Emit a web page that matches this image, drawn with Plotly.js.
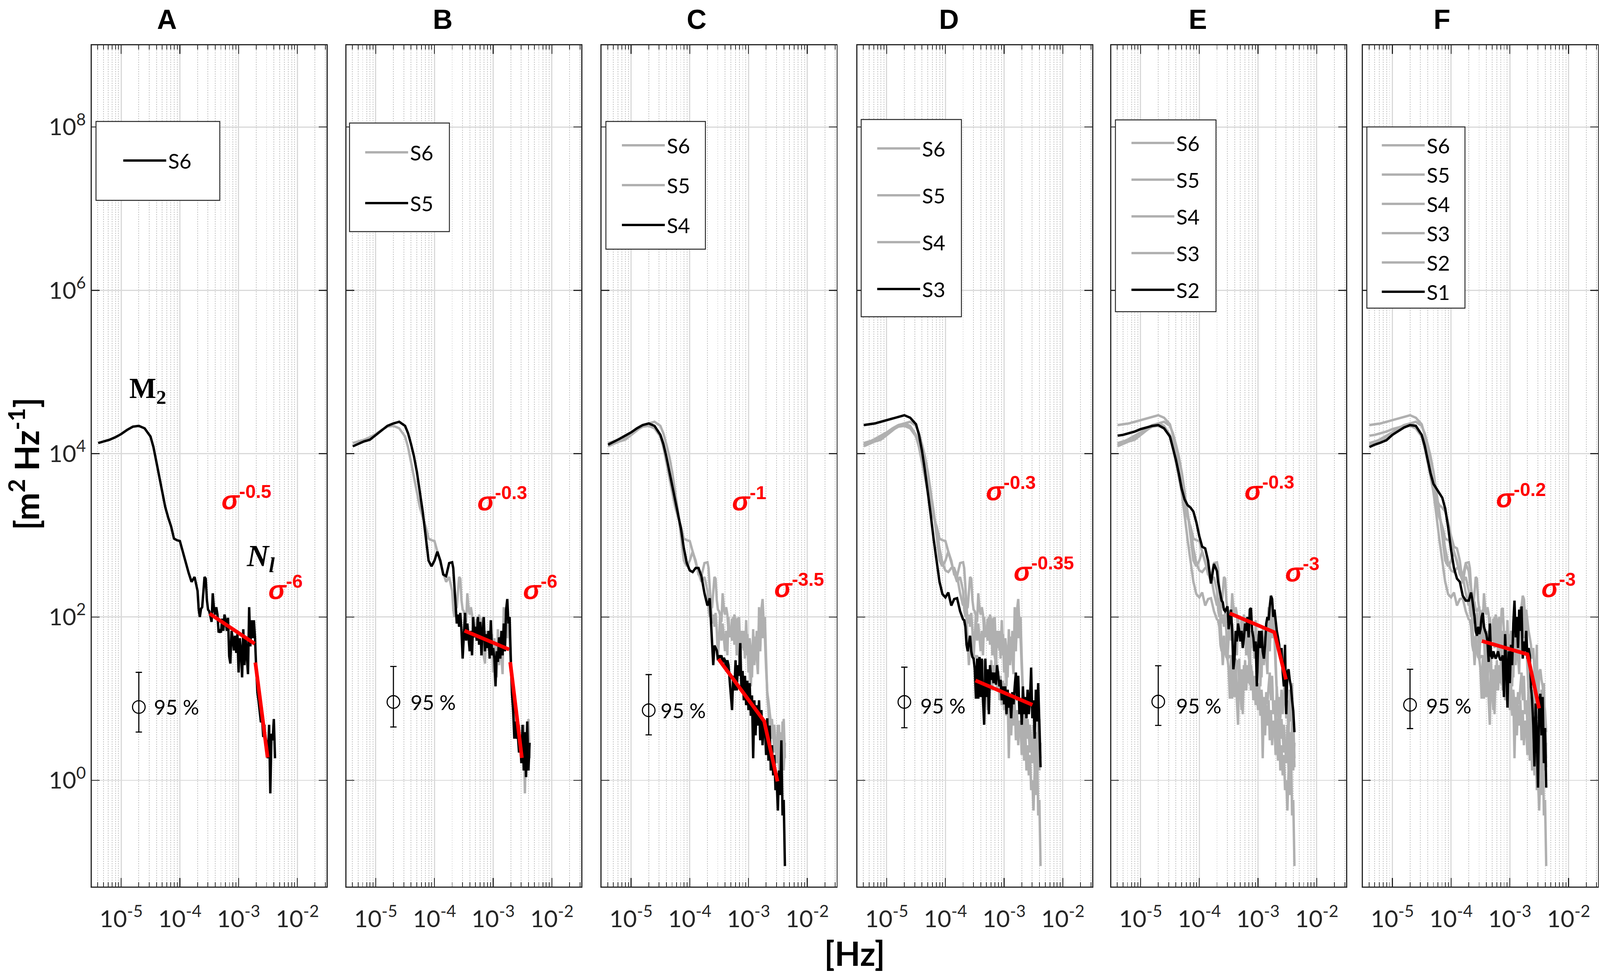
<!DOCTYPE html>
<html>
<head>
<meta charset="utf-8">
<script src="https://cdn.plot.ly/plotly-3.0.1.min.js"></script>
<style>html,body{margin:0;padding:0;background:#fff;overflow:hidden;}#chart{position:absolute;left:0;top:0;}</style>
</head>
<body>
<div id="chart"></div>
<script>
// ---------------- DATA ----------------
// frequency bins [Hz]
const freq = [
  4.07e-6, 5.01e-6, 6.31e-6, 7.94e-6, 1.00e-5, 1.26e-5, 1.58e-5, 2.00e-5, 2.51e-5, 3.16e-5,
  3.55e-5, 3.98e-5, 4.47e-5, 5.01e-5, 5.62e-5, 6.31e-5, 7.08e-5, 7.94e-5, 8.91e-5, 1.00e-4,
  1.12e-4, 1.26e-4, 1.41e-4, 1.58e-4, 1.78e-4, 2.00e-4,
  2.089e-4, 2.188e-4, 2.291e-4, 2.399e-4, 2.512e-4, 2.630e-4, 2.754e-4, 2.884e-4, 3.020e-4, 3.162e-4,
  3.311e-4, 3.467e-4, 3.631e-4, 3.802e-4, 3.981e-4, 4.169e-4, 4.365e-4, 4.571e-4, 4.786e-4, 5.012e-4,
  5.248e-4, 5.495e-4, 5.754e-4, 6.026e-4, 6.310e-4, 6.607e-4, 6.918e-4, 7.244e-4, 7.586e-4, 7.943e-4,
  8.318e-4, 8.710e-4, 9.120e-4, 9.550e-4, 1.000e-3,
  1.047e-3, 1.096e-3, 1.148e-3, 1.202e-3, 1.259e-3, 1.318e-3, 1.380e-3, 1.445e-3, 1.514e-3, 1.585e-3,
  1.660e-3, 1.738e-3, 1.820e-3, 1.905e-3, 1.995e-3, 2.089e-3, 2.188e-3, 2.291e-3, 2.399e-3, 2.512e-3,
  2.630e-3, 2.754e-3, 2.884e-3, 3.020e-3, 3.162e-3, 3.311e-3, 3.467e-3, 3.631e-3, 3.802e-3, 3.981e-3,
  4.169e-3
];

// spectral density, stored as log10 of [m^2 Hz^-1]
const logPsdS6 = [
  4.13, 4.15, 4.17, 4.20, 4.24, 4.29, 4.33, 4.34, 4.31, 4.21, 4.08, 3.90, 3.71, 3.53, 3.35, 3.22, 3.11, 2.96, 2.94, 2.93, 2.80, 2.65, 2.54, 2.43, 2.49, 2.32,
  2.10, 2.00, 2.10, 2.12, 2.32, 2.49, 2.47, 2.21, 2.09, 2.07, 2.01, 1.94, 2.29, 2.10, 2.03, 2.12, 2.03, 1.81, 1.83, 1.81, 1.98, 1.83, 2.03, 1.96, 1.83, 1.99, 1.52, 1.43, 1.83, 1.74, 1.59, 1.77, 1.56, 1.79, 1.32,
  1.74, 1.59, 1.26, 1.85, 1.41, 1.76, 1.52, 1.30, 2.12, 1.64, 1.96, 1.74, 1.96, 1.74, 1.37, 1.08, 0.97, 0.80, 0.71, 0.75, 0.53, 0.68, 0.42, 0.49, 0.27, 0.68, -0.16, 0.57, 0.49, 0.75, 0.27
];
const logPsdS5 = [
  4.09, 4.12, 4.15, 4.17, 4.23, 4.29, 4.34, 4.37, 4.39, 4.34, 4.25, 4.12, 3.97, 3.78, 3.55, 3.29, 2.99, 2.69, 2.62, 2.69, 2.80, 2.69, 2.52, 2.50, 2.66, 2.67,
  2.60, 2.35, 2.18, 1.92, 2.03, 1.88, 2.05, 1.83, 1.49, 1.83, 2.05, 1.71, 1.92, 1.75, 1.58, 1.83, 1.53, 2.00, 1.75, 1.88, 1.71, 2.00, 1.66, 1.94, 1.53, 1.83, 2.00, 1.58, 1.79, 1.62, 1.83, 1.49, 1.96, 1.53, 1.62,
  1.49, 1.15, 1.58, 1.45, 1.75, 1.49, 1.83, 1.53, 1.92, 1.58, 2.09, 2.22, 1.92, 2.00, 1.49, 1.06, 0.85, 0.51, 0.72, 0.51, 0.55, 0.34, 0.46, 0.21, 0.68, 0.12, 0.59, 0.04, 0.72, 0.12, 0.46
];
const logPsdS4 = [
  4.11, 4.14, 4.18, 4.22, 4.26, 4.31, 4.35, 4.37, 4.34, 4.23, 4.12, 3.97, 3.79, 3.63, 3.45, 3.27, 3.08, 2.84, 2.66, 2.57, 2.55, 2.60, 2.60, 2.50, 2.29, 2.14,
  2.17, 2.23, 1.99, 1.71, 1.41, 1.65, 1.62, 1.59, 1.47, 1.53, 1.50, 1.53, 1.44, 1.50, 1.47, 1.37, 1.47, 1.41, 1.22, 1.04, 0.86, 1.28, 1.10, 1.47, 1.10, 1.41, 1.28, 1.68, 1.10, 1.34, 0.98, 1.28, 0.92, 1.22, 0.86,
  1.19, 0.79, 1.04, 0.27, 0.98, 0.55, 0.92, 0.67, 0.98, 0.49, 0.86, 0.43, 0.73, 0.67, 0.31, 0.76, 0.24, 0.67, 0.12, 0.43, 0.06, 0.31, -0.12, 0.00, -0.37, 0.12, -0.18, 0.49, -0.43, -0.24, -1.05
];
const logPsdS3 = [
  4.35, 4.36, 4.37, 4.39, 4.41, 4.43, 4.45, 4.47, 4.44, 4.36, 4.23, 4.04, 3.80, 3.54, 3.25, 2.95, 2.69, 2.43, 2.28, 2.24, 2.30, 2.14, 2.22, 2.23, 2.07, 1.97,
  1.96, 1.88, 1.66, 1.58, 1.68, 1.77, 1.58, 1.51, 1.49, 1.36, 1.00, 1.49, 1.00, 1.51, 1.02, 1.49, 0.98, 0.68, 1.49, 1.02, 1.36, 0.81, 1.41, 1.23, 1.32, 1.19, 1.32, 1.17, 1.41, 1.28, 1.15, 1.23, 0.98, 1.15, 0.93,
  1.15, 0.81, 1.11, 0.89, 1.02, 0.76, 1.08, 0.93, 1.15, 1.32, 0.98, 1.28, 0.81, 0.98, 0.68, 1.15, 0.81, 1.02, 0.76, 1.11, 0.81, 0.98, 1.38, 0.76, 0.98, 0.51, 1.11, 0.72, 1.19, 0.55, 0.16
];
const logPsdS2 = [
  4.22, 4.23, 4.25, 4.27, 4.30, 4.32, 4.34, 4.35, 4.31, 4.21, 4.08, 3.93, 3.76, 3.57, 3.44, 3.37, 3.34, 3.29, 3.16, 2.99, 2.86, 2.84, 2.69, 2.41, 2.65, 2.56,
  2.43, 2.35, 2.26, 2.20, 2.18, 2.09, 2.07, 2.11, 2.13, 1.85, 1.96, 2.09, 1.83, 1.36, 1.49, 1.83, 1.70, 1.92, 1.83, 1.70, 1.83, 1.62, 1.75, 1.92, 1.83, 2.00, 1.75, 2.09, 2.11, 1.83, 1.75, 1.58, 1.70, 1.15, 1.62,
  1.83, 1.62, 1.83, 1.58, 1.49, 1.66, 1.92, 2.00, 1.96, 2.13, 2.26, 2.22, 2.00, 2.09, 1.92, 1.83, 1.75, 1.66, 1.49, 1.62, 1.32, 1.15, 1.66, 0.81, 1.32, 1.36, 1.23, 1.15, 0.98, 0.85, 0.59
];
const logPsdS1 = [
  4.08, 4.11, 4.135, 4.165, 4.23, 4.28, 4.32, 4.35, 4.34, 4.23, 4.10, 3.93, 3.76, 3.63, 3.57, 3.52, 3.46, 3.33, 3.10, 2.82, 2.60, 2.47, 2.43, 2.26, 2.20, 2.20,
  2.24, 2.30, 2.22, 2.13, 2.00, 1.83, 1.77, 1.88, 1.79, 1.85, 2.00, 2.05, 1.88, 1.83, 1.79, 1.70, 1.45, 1.92, 1.53, 1.49, 1.58, 1.53, 1.49, 1.53, 1.58, 1.51, 1.47, 1.49, 1.53, 1.02, 1.79, 1.41, 0.89, 1.58, 1.19,
  1.66, 1.41, 1.92, 2.20, 1.75, 2.00, 1.62, 2.09, 1.83, 2.13, 1.49, 1.70, 1.58, 1.83, 1.49, 1.62, 1.53, 1.15, 0.98, 0.68, 0.17, 0.94, 0.51, -0.09, 0.94, 1.06, 0.55, 1.02, 0.21, 0.64, -0.09
];

// panels and the stations shown in each (last one drawn black)
const panelLetters = ['A', 'B', 'C', 'D', 'E', 'F'];
const panelStations = [
  ['S6'],
  ['S6', 'S5'],
  ['S6', 'S5', 'S4'],
  ['S6', 'S5', 'S4', 'S3'],
  ['S6', 'S5', 'S4', 'S3', 'S2'],
  ['S6', 'S5', 'S4', 'S3', 'S2', 'S1']
];

// red power-law fits (frequency, psd); null separates segments
const fitFreqA = [3.2e-4, 1.88e-3, null, 1.93e-3, 3.12e-3];
const fitPsdA  = [110, 47, null, 27.7, 1.9];
const fitFreqB = [3.25e-4, 1.87e-3, null, 1.95e-3, 3.08e-3];
const fitPsdB  = [68, 40, null, 28, 1.88];
const fitFreqC = [3.08e-4, 1.85e-3, 3.12e-3];
const fitPsdC  = [30.6, 5.3, 0.97];
const fitFreqD = [3.25e-4, 1.87e-3, 3.03e-3];
const fitPsdD  = [16.7, 9.7, 8.4];
const fitFreqE = [3.3e-4, 1.9e-3, 2.99e-3];
const fitPsdE  = [111, 65, 17.2];
const fitFreqF = [3.34e-4, 2.0e-3, 3.16e-3];
const fitPsdF  = [50.8, 34.9, 7.6];

// slope labels
const slopeLow  = ['-0.5', '-0.3', '-1', '-0.3', '-0.3', '-0.2'];
const slopeHigh = ['-6', '-6', '-3.5', '-0.35', '-3', '-3'];

// 95 % confidence bar
const ciFreq   = 2.0e-5;
const ciCenter = [7.9, 9.1, 7.2, 9.1, 9.2, 8.4];
const ciUpper  = [21, 24.8, 19.7, 24.3, 25.3, 22.9];
const ciLower  = [3.9, 4.5, 3.6, 4.4, 4.7, 4.3];

// axis ticks
const xTickVals = [1e-5, 1e-4, 1e-3, 1e-2];
const xTickText = ['10<sup>-5</sup>', '10<sup>-4</sup>', '10<sup>-3</sup>', '10<sup>-2</sup>'];
const yTickVals = [1, 1e2, 1e4, 1e6, 1e8];
const yTickText = ['10<sup>0</sup>', '10<sup>2</sup>', '10<sup>4</sup>', '10<sup>6</sup>', '10<sup>8</sup>'];

// ---------------- BUILD ----------------
const psdLog = {S1: logPsdS1, S2: logPsdS2, S3: logPsdS3, S4: logPsdS4, S5: logPsdS5, S6: logPsdS6};
const fitFreqs = [fitFreqA, fitFreqB, fitFreqC, fitFreqD, fitFreqE, fitFreqF];
const fitPsds = [fitPsdA, fitPsdB, fitPsdC, fitPsdD, fitPsdE, fitPsdF];
const toLin = arr => arr.map(v => Math.pow(10, v));

// design space is 4550 x 2499 px; the figure fills the whole viewport
const W0 = 4550, H0 = 2499;
const W = document.documentElement.clientWidth || window.innerWidth;
const H = document.documentElement.clientHeight || window.innerHeight;
const SX = W / W0, SY = H / H0;
const SF = Math.sqrt(SX * SY);          // scale for fonts / strokes
const f = v => v * SF;
const px = v => v / W0;
const py = v => 1 - v / H0;
const chartDiv = document.getElementById('chart');
chartDiv.style.width = W + 'px';
chartDiv.style.height = H + 'px';

const panelLeft = [261, 985, 1711, 2438, 3160, 3876];
const panelWidth = 668;
const plotTop = 116, plotBottom = 2270;

const LEG_FONT = f(56);
const legItemH = LEG_FONT * 1.3 + 3;
const legendLineStart = [348, 1036, 1766, 2492, 3215, 3927];
const legendFirstY = [411, 390, 372, 380, 366, 372];
const legendSpacing = [100, 130, 102, 120, 94, 75];
const legendBoxes = [
  [273, 311, 625, 513], [994, 315, 1278, 593], [1723, 311, 2006, 638],
  [2449, 306, 2734, 811], [3172, 307, 3458, 798], [3887, 325, 4166, 789]
];

const FONT = 'Lato, "Open Sans", sans-serif';
const AXC = '#262626';

const minorX = [];
for (let e = -6; e <= -2; e++) {
  for (let m = 2; m <= 9; m++) {
    const v = m * Math.pow(10, e);
    if (v > Math.pow(10, -5.5) && v < Math.pow(10, -1.5)) minorX.push(v);
  }
}

const traces = [];
const layout = {
  width: W, height: H, autosize: false,
  margin: {l: 0, r: 0, t: 0, b: 0, pad: 0},
  paper_bgcolor: '#ffffff', plot_bgcolor: '#ffffff',
  font: {family: FONT, color: '#000', size: f(40)},
  showlegend: true,
  shapes: [], annotations: []
};

panelStations.forEach((list, i) => {
  const sfx = i === 0 ? '' : String(i + 1);
  const xa = 'x' + sfx, ya = 'y' + sfx;
  const legName = 'legend' + sfx;

  list.forEach((st, j) => {
    const isBlack = j === list.length - 1;
    traces.push({
      type: 'scatter', mode: 'lines',
      x: freq, y: toLin(psdLog[st]),
      name: st, xaxis: xa, yaxis: ya,
      legend: legName, legendgroup: 'p' + i + st,
      line: {color: isBlack ? '#000000' : '#b0b0b0', width: f(6.5)},
      hoverinfo: 'skip'
    });
  });

  traces.push({
    type: 'scatter', mode: 'lines',
    x: fitFreqs[i], y: fitPsds[i],
    xaxis: xa, yaxis: ya, showlegend: false, connectgaps: false,
    line: {color: '#ff0000', width: f(10)}, hoverinfo: 'skip'
  });

  traces.push({
    type: 'scatter', mode: 'markers',
    x: [ciFreq], y: [ciCenter[i]],
    xaxis: xa, yaxis: ya, showlegend: false,
    marker: {symbol: 'circle-open', size: f(34), color: '#000', line: {width: f(3), color: '#000'}},
    error_y: {type: 'data', symmetric: false,
      array: [ciUpper[i] - ciCenter[i]], arrayminus: [ciCenter[i] - ciLower[i]],
      color: '#000', thickness: f(3), width: 9 * SX},
    hoverinfo: 'skip'
  });

  const L = panelLeft[i];
  layout['xaxis' + sfx] = {
    domain: [px(L), px(L + panelWidth)], anchor: ya,
    type: 'log', range: [-5.5, -1.5],
    tickvals: xTickVals, ticktext: xTickText,
    ticks: 'inside', ticklen: 22 * SY, tickwidth: f(2.5), tickcolor: AXC,
    showline: true, linecolor: AXC, linewidth: f(3), mirror: 'allticks',
    showgrid: true, gridcolor: '#d9d9d9', gridwidth: f(3),
    zeroline: false,
    tickfont: {family: FONT, size: f(64), color: AXC},
    ticklabelstandoff: 28 * SY,
    minor: {tickvals: minorX, ticks: 'inside', ticklen: 11 * SY, tickwidth: f(2), tickcolor: AXC,
      showgrid: true, gridcolor: '#c4c4c4', griddash: 'dot', gridwidth: f(2)},
    fixedrange: true
  };
  layout['yaxis' + sfx] = {
    domain: [py(plotBottom), py(plotTop)], anchor: xa,
    type: 'log', range: [Math.log10(0.05), 9],
    tickvals: yTickVals, ticktext: yTickText,
    showticklabels: i === 0,
    ticks: 'inside', ticklen: 22 * SX, tickwidth: f(2.5), tickcolor: AXC,
    showline: true, linecolor: AXC, linewidth: f(3), mirror: 'allticks',
    showgrid: true, gridcolor: '#d9d9d9', gridwidth: f(3),
    zeroline: false,
    tickfont: {family: FONT, size: f(64), color: AXC},
    ticklabelstandoff: 22 * SX,
    fixedrange: true
  };

  // legend (box drawn as shape, items by plotly legend)
  const b = legendBoxes[i];
  layout.shapes.push({
    type: 'rect', xref: 'paper', yref: 'paper', layer: 'above',
    x0: px(b[0]), x1: px(b[2]), y0: py(b[3]), y1: py(b[1]),
    line: {color: AXC, width: f(2.5)}, fillcolor: '#ffffff'
  });
  const legTopPx = legendFirstY[i] * SY - 5 - legItemH / 2;
  layout[legName] = {
    x: px(legendLineStart[i] - 3), y: 1 - legTopPx / H,
    xanchor: 'left', yanchor: 'top',
    bgcolor: 'rgba(0,0,0,0)', borderwidth: 0,
    font: {family: FONT, size: LEG_FONT, color: '#000'},
    itemwidth: Math.max(30, 122 * SX), traceorder: 'grouped',
    tracegroupgap: Math.max(0, legendSpacing[i] * SY - legItemH),
    itemclick: false, itemdoubleclick: false
  };
});

// annotations
const ann = layout.annotations;
const titlePos = [[475, 50], [1259, 49], [1981, 49], [2699, 49], [3406, 49], [4101, 49]];
const slopeLowPos = [[701, 1275], [1429, 1278], [2131, 1278], [2875, 1252], [3610, 1251], [4326, 1270]];
const slopeHighPos = [[812, 1505], [1536, 1505], [2273, 1500], [2968, 1458], [3703, 1460], [4432, 1500]];
const ciTextPos = [[436, 1810], [1165, 1797], [1876, 1818], [2615, 1806], [3343, 1806], [4054, 1806]];

panelLetters.forEach((t, i) => {
  ann.push({xref: 'paper', yref: 'paper', x: px(titlePos[i][0]), y: py(titlePos[i][1]),
    xanchor: 'center', yanchor: 'middle', showarrow: false, text: '<b>' + t + '</b>',
    font: {family: '"Liberation Sans", Arial, sans-serif', size: f(74), color: '#000'}});
  ann.push({xref: 'paper', yref: 'paper', x: px(slopeLowPos[i][0]), y: py(slopeLowPos[i][1]),
    xanchor: 'center', yanchor: 'middle', showarrow: false,
    text: '<b><i>σ</i><sup>' + slopeLow[i] + '</sup></b>',
    font: {family: '"Liberation Sans", Arial, sans-serif', size: f(72), color: '#ff0000'}});
  ann.push({xref: 'paper', yref: 'paper', x: px(slopeHighPos[i][0]), y: py(slopeHighPos[i][1]),
    xanchor: 'center', yanchor: 'middle', showarrow: false,
    text: '<b><i>σ</i><sup>' + slopeHigh[i] + '</sup></b>',
    font: {family: '"Liberation Sans", Arial, sans-serif', size: f(72), color: '#ff0000'}});
  ann.push({xref: 'paper', yref: 'paper', x: px(ciTextPos[i][0]), y: py(ciTextPos[i][1]),
    xanchor: 'left', yanchor: 'middle', showarrow: false, text: '95 %',
    font: {family: FONT, size: f(55), color: '#000'}});
});

ann.push({xref: 'paper', yref: 'paper', x: px(420), y: py(1000), xanchor: 'center', yanchor: 'middle',
  showarrow: false, text: '<b>M<sub>2</sub></b>',
  font: {family: '"Liberation Serif", "DejaVu Serif", serif', size: f(77), color: '#000'}});
ann.push({xref: 'paper', yref: 'paper', x: px(742), y: py(1428), xanchor: 'center', yanchor: 'middle',
  showarrow: false, text: '<b><i>N<sub>l</sub></i></b>',
  font: {family: '"Liberation Serif", "DejaVu Serif", serif', size: f(82), color: '#000'}});
ann.push({xref: 'paper', yref: 'paper', x: px(2431), y: py(2440), xanchor: 'center', yanchor: 'middle',
  showarrow: false, text: '<b>[Hz]</b>', font: {family: FONT, size: f(90), color: '#000'}});
ann.push({xref: 'paper', yref: 'paper', x: px(68), y: py(1188), xanchor: 'center', yanchor: 'middle',
  showarrow: false, textangle: -90, text: '<b>[m<sup>2</sup> Hz<sup>-1</sup>]</b>',
  font: {family: FONT, size: f(90), color: '#000'}});

Plotly.newPlot(chartDiv, traces, layout, {displayModeBar: false, responsive: false, staticPlot: true});
</script>
</body>
</html>
